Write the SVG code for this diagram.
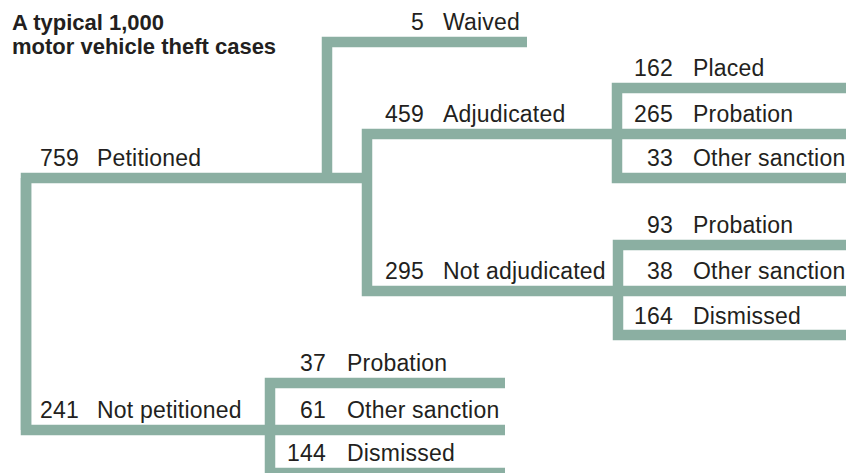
<svg xmlns="http://www.w3.org/2000/svg" width="846" height="473" viewBox="0 0 846 473">
<style>
.ln{fill:none;stroke:#8bafa2;stroke-width:10.5;stroke-linejoin:miter;stroke-linecap:butt}
text{font-family:"Liberation Sans",Arial,sans-serif;font-size:23px;letter-spacing:0.2px;fill:#231f20}
.n{text-anchor:end}
.t{font-weight:bold;font-size:22px;letter-spacing:0}
</style>
<rect width="846" height="473" fill="#ffffff"/>
<g id="title"><text class="t" x="12" y="30">A typical 1,000</text><text class="t" x="12" y="54">motor vehicle theft cases</text></g>
<g id="connectors">
<path class="ln" d="M26 430 V178 H372"/>
<path class="ln" d="M26 178 V430 H505"/>
<path class="ln" d="M327 178 V42 H527"/>
<path class="ln" d="M846 134 H367 V291 H846"/>
<path class="ln" d="M846 88 H617 V178 H846"/>
<path class="ln" d="M846 245 H618 V335 H846"/>
<path class="ln" d="M505 383 H270 V473 H505"/>
</g>
<g id="petitioned"><text class="n" x="79" y="166">759</text><text x="97" y="166">Petitioned</text></g>
<g id="waived"><text class="n" x="424" y="30">5</text><text x="443" y="30">Waived</text></g>
<g id="adjudicated"><text class="n" x="424" y="122">459</text><text x="443" y="122">Adjudicated</text></g>
<g id="placed"><text class="n" x="673" y="76">162</text><text x="693" y="76">Placed</text></g>
<g id="adj-probation"><text class="n" x="673" y="122">265</text><text x="693" y="122">Probation</text></g>
<g id="adj-other"><text class="n" x="673" y="166">33</text><text x="693" y="166">Other sanction</text></g>
<g id="not-adjudicated"><text class="n" x="424" y="279">295</text><text x="443" y="279">Not adjudicated</text></g>
<g id="nadj-probation"><text class="n" x="673" y="233">93</text><text x="693" y="233">Probation</text></g>
<g id="nadj-other"><text class="n" x="673" y="279">38</text><text x="693" y="279">Other sanction</text></g>
<g id="nadj-dismissed"><text class="n" x="673" y="324">164</text><text x="693" y="324">Dismissed</text></g>
<g id="not-petitioned"><text class="n" x="79" y="418">241</text><text x="97" y="418">Not petitioned</text></g>
<g id="np-probation"><text class="n" x="326" y="371">37</text><text x="347" y="371">Probation</text></g>
<g id="np-other"><text class="n" x="326" y="418">61</text><text x="347" y="418">Other sanction</text></g>
<g id="np-dismissed"><text class="n" x="326" y="461">144</text><text x="347" y="461">Dismissed</text></g>
</svg>
